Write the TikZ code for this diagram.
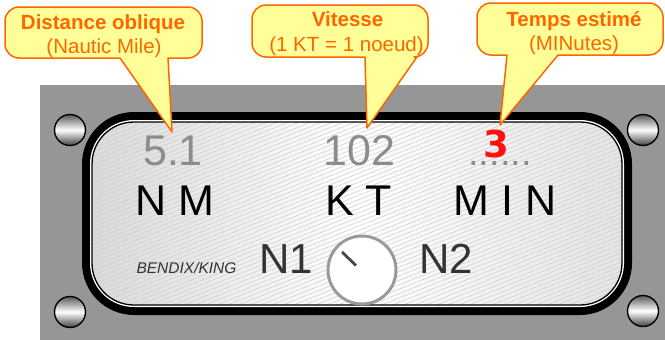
\documentclass[tikz,border=0pt]{standalone}
\usepackage{fontspec}
\setmainfont{Liberation Sans}
\newfontfamily\digitfont{DejaVu Sans}
\definecolor{panelgray}{HTML}{969696}
\definecolor{calloutfill}{HTML}{FFFF99}
\definecolor{calloutedge}{HTML}{FF6600}
\definecolor{readoutgray}{HTML}{8C8C8C}
\definecolor{legendgray}{HTML}{333333}
\definecolor{stripegray}{HTML}{CDCDCD}
\definecolor{faceedge}{HTML}{DADADA}
\definecolor{faceside}{HTML}{E4E4E4}
\definecolor{knobrim}{HTML}{9A9A9A}
\definecolor{alertred}{HTML}{FF1010}
\begin{document}
\begin{tikzpicture}[x=1pt,y=-1pt,
  callout/.style={fill=calloutfill, draw=calloutedge, line width=1.5pt, line join=round},
  calltitle/.style={anchor=base, text=calloutedge, inner sep=0pt,
    font=\fontsize{20.5}{23}\selectfont\bfseries},
  callsub/.style={anchor=base, text=calloutedge, inner sep=0pt,
    font=\fontsize{20.5}{23}\selectfont},
  readout/.style={anchor=base, text=readoutgray, inner sep=0pt,
    font=\fontsize{43}{43}\selectfont},
  unitlabel/.style={anchor=base, text=black, inner sep=0pt,
    font=\fontsize{43}{43}\selectfont},
  bandlabel/.style={anchor=base, text=legendgray, inner sep=0pt,
    font=\fontsize{42}{42}\selectfont},
  screw/.style={circle, minimum size=31pt, inner sep=0pt, draw=black,
    line width=1.4pt, top color=gray!70!black, bottom color=black!75,
    middle color=white},
  stripe/.style={stripegray, line width=0.7pt, opacity=0.8},
]
\useasboundingbox (0,0) rectangle (665,340);

% mounting plate
\fill[panelgray] (40,85) rectangle (665,340);

% screws
\node[screw] (screwTL) at (70,130) {};
\node[screw] (screwBL) at (70,312) {};
\node[screw] (screwTR) at (643,130) {};
\node[screw] (screwBR) at (643,311) {};

% bezel and display face
\fill[black, rounded corners=52] (82,112) rectangle (632,315);
\fill[white, rounded corners=44] (90,120) rectangle (624,307);
\shade[rounded corners=42, left color=faceedge, right color=faceside,
  middle color=white] (92,122) rectangle (622,305);
\begin{scope}
  \clip[rounded corners=42] (92,122) rectangle (622,305);
  \foreach \k in {0,...,110}
    \draw[stripe] (85,{120+\k*4.4}) -- ++(550,-220);
\end{scope}
\draw[black, line width=1.3pt, rounded corners=42] (92,122) rectangle (622,305);

% readouts
\node[readout] (dist) at (173,165) {5.1};
\node[readout] (speed) at (359.5,165) {102};
\node[anchor=base, text=readoutgray, inner sep=0pt,
  font=\fontsize{38}{38}\selectfont] (dots) at (500,165) {......};
\node[anchor=base, text=alertred, inner sep=0pt,
  font=\digitfont\bfseries\fontsize{37}{37}\selectfont] (eta) at (496.5,157) {3};

% units
\node[unitlabel] (unitNM) at (174.5,215) {N M};
\node[unitlabel] (unitKT) at (358.5,215) {K T};
\node[unitlabel] (unitMIN) at (505,215) {M I N};

% lower legend and selector
\node[anchor=base, text=legendgray, inner sep=0pt,
  font=\fontsize{15.5}{15.5}\selectfont\itshape] (brand) at (186.5,273) {BENDIX/KING};
\node[bandlabel] (nav1) at (286.5,273) {N1};
\node[bandlabel] (nav2) at (446,273) {N2};
\node[circle, minimum size=68pt, inner sep=0pt, fill=white, draw=knobrim,
  line width=3pt] (knob) at (362,270) {};
\draw[legendgray!90, line width=2.8pt] (knob.center) ++(-6,-4.5) -- ++(-14,-13.5);

% callouts
\coordinate (tipNM) at (172,132);
\coordinate (tipKT) at (367,128);
\coordinate (tipMIN) at (500,125);

\draw[callout] (120,58) [rounded corners=14] -- (5,58) -- (5,7) -- (202,7)
  -- (202,58) [sharp corners] -- (168,58) -- (tipNM) -- cycle;
\node[calltitle] (c1title) at (103,30) {Distance oblique};
\node[callsub] (c1sub) at (104,53) {(Nautic Mile)};

\draw[callout] (365,57) [rounded corners=14] -- (252,57) -- (252,5) -- (428,5)
  -- (428,57) [sharp corners] -- (417,57) -- (tipKT) -- cycle;
\node[calltitle] (c2title) at (347.5,27) {Vitesse};
\node[callsub] (c2sub) at (346.5,51) {(1 KT = 1 noeud)};

\draw[callout] (507,55) [rounded corners=14] -- (477,55) -- (477,3) -- (663,3)
  -- (663,55) [sharp corners] -- (558,55) -- (tipMIN) -- cycle;
\node[calltitle] (c3title) at (574,27) {Temps estimé};
\node[callsub] (c3sub) at (574,50) {(MINutes)};
\end{tikzpicture}
\end{document}
